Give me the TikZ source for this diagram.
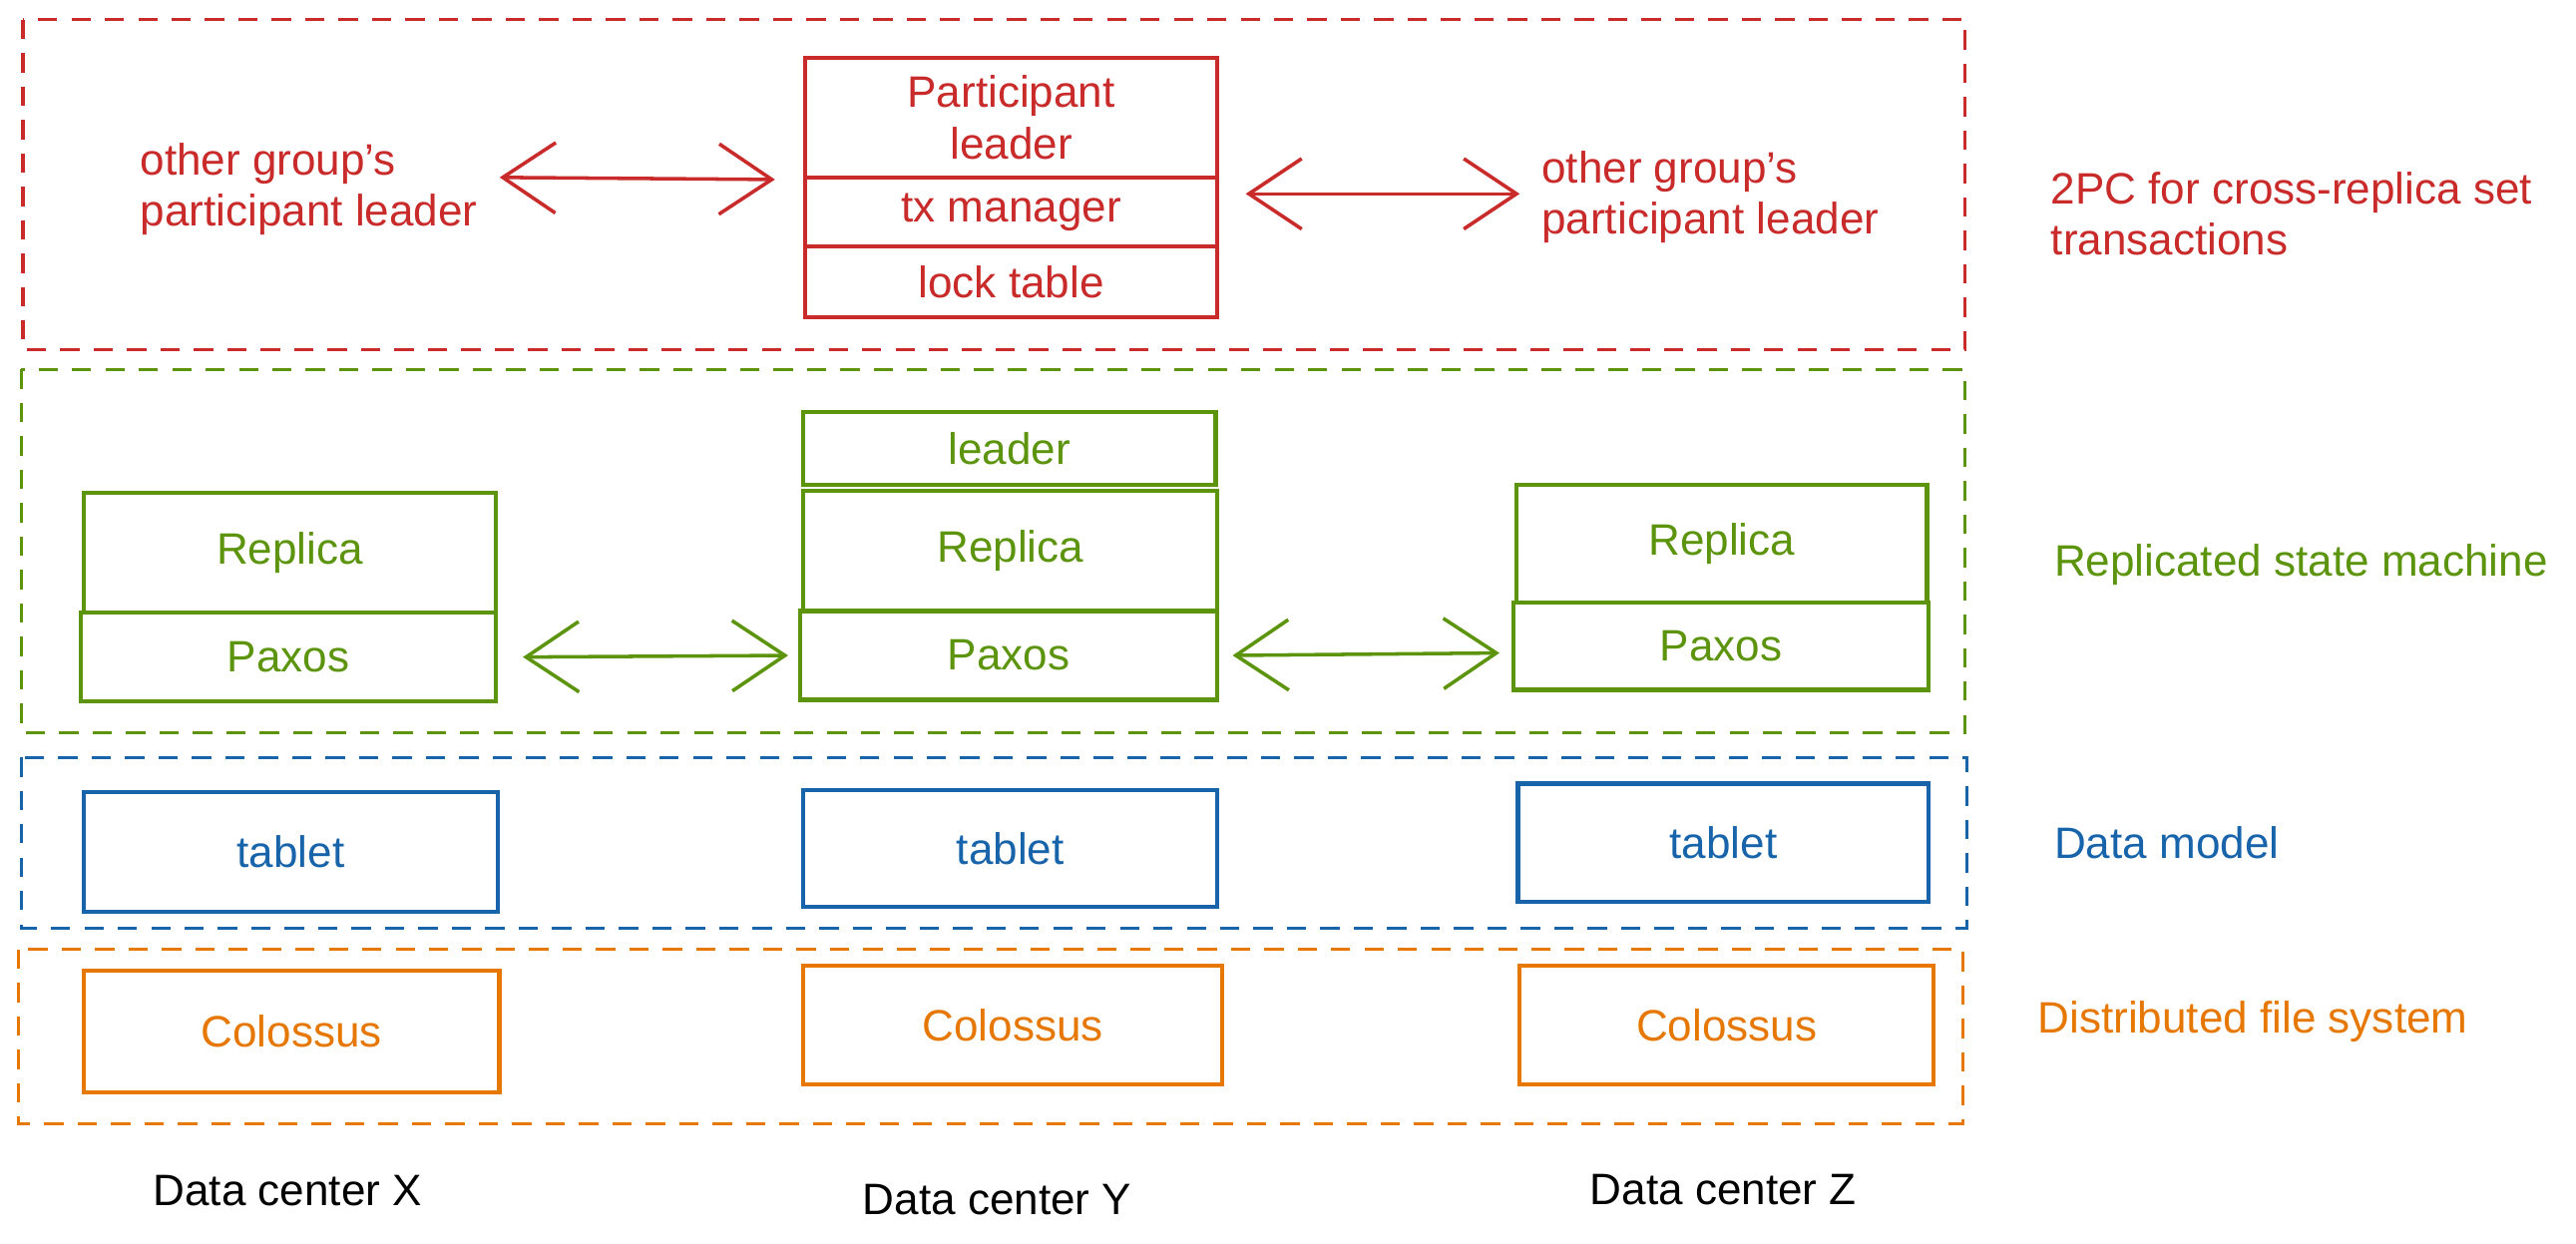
\documentclass[tikz,border=0pt]{standalone}
\usepackage{fontspec}
\setmainfont{Liberation Sans}
\usetikzlibrary{arrows.meta,fit}
\definecolor{cred}{HTML}{C92A2A}
\definecolor{cgreen}{HTML}{5C940D}
\definecolor{cblue}{HTML}{1864AB}
\definecolor{corange}{HTML}{E67700}
\newdimen\pu \pu=0.4672pt
\tikzset{
  frame/.style={line width=0.9pt, dash pattern=on 5.5pt off 4pt},
  box/.style={draw, line width=1.2pt, inner sep=0pt},
  boxtxt/.style={inner sep=0pt, align=center, font=\fontsize{12.5}{14.5}\selectfont},
  lbl/.style={inner sep=0pt, align=left, anchor=west, font=\fontsize{12.5}{14.5}\selectfont},
  dc/.style={inner sep=0pt, font=\fontsize{12.5}{14.5}\selectfont},
  arr/.style={line width=1pt, {Straight Barb[length=15pt,width=20pt,line width=1pt]}-{Straight Barb[length=15pt,width=20pt,line width=1pt]}}
}
\begin{document}
\begin{tikzpicture}[x=0.4672pt,y=-0.4672pt]
\useasboundingbox (0,0) rectangle (1568,757);
\fill[white] (0,0) rectangle (1568,757);
% frames
\draw[frame,cred] (14,12) rectangle (1196,213);
\draw[frame,cgreen] (13,225) rectangle (1196,446);
\draw[frame,cblue] (13,461) rectangle (1197,565);
\draw[frame,corange] (11,578) rectangle (1195,684);
% red layer
\node[box,cred,fit={(490,35) (741,108)}] (pl) {};
\node[boxtxt,cred] (plt) at (pl.center) {Participant\\leader};
\node[box,cred,fit={(490,108) (741,150)}] (tx) {};
\node[boxtxt,cred] (txt) at (tx.center) {tx manager};
\node[box,cred,fit={(490,150) (741,193)}] (lt) {};
\node[boxtxt,cred] (ltt) at (lt.center) {lock table};
\node[lbl,cred] (othL) at (85,115) {other group's\\participant leader};
\node[lbl,cred] (othR) at (938,120) {other group's\\participant leader};
\node[lbl,cred] (l2pc) at (1248,130) {2PC for cross-replica set\\transactions};
\draw[arr,cred] ([shift={(13,-7)}]othL.east) -- ([xshift=-17\pu]pl.south west);
\draw[arr,cred] ([shift={(16,-11)}]tx.east) -- ([shift={(-13,-2)}]othR.west);
% green layer
\node[box,cgreen,fit={(489,251) (740,295)}] (ld) {};
\node[boxtxt,cgreen] (ldt) at (ld.center) {leader};
\node[box,cgreen,fit={(51,300) (302,373)}] (repL) {};
\node[boxtxt,cgreen] (repLt) at (repL.center) {Replica};
\node[box,cgreen,fit={(49,373) (302,427)}] (paxL) {};
\node[boxtxt,cgreen] (paxLt) at (paxL.center) {Paxos};
\node[box,cgreen,fit={(489,299) (741,372)}] (repC) {};
\node[boxtxt,cgreen] (repCt) at (repC.center) {Replica};
\node[box,cgreen,fit={(487,372) (741,426)}] (paxC) {};
\node[boxtxt,cgreen] (paxCt) at (paxC.center) {Paxos};
\node[box,cgreen,fit={(923,295) (1173,367)}] (repR) {};
\node[boxtxt,cgreen] (repRt) at (repR.center) {Replica};
\node[box,cgreen,fit={(921,367) (1174,420)}] (paxR) {};
\node[boxtxt,cgreen] (paxRt) at (paxR.center) {Paxos};
\node[lbl,cgreen] (lrsm) at (1250,344) {Replicated state machine};
\draw[arr,cgreen] ([xshift=15\pu]paxL.east) -- ([xshift=-6\pu]paxC.west);
\draw[arr,cgreen] ([xshift=8\pu]paxC.east) -- ([shift={(-7,4)}]paxR.west);
% blue layer
\node[box,cblue,fit={(51,482) (303,555)}] (tabL) {};
\node[boxtxt,cblue] (tabLt) at (tabL.center) {tablet};
\node[box,cblue,fit={(489,481) (741,552)}] (tabC) {};
\node[boxtxt,cblue] (tabCt) at (tabC.center) {tablet};
\node[box,cblue,fit={(924,477) (1174,549)}] (tabR) {};
\node[boxtxt,cblue] (tabRt) at (tabR.center) {tablet};
\node[lbl,cblue] (ldm) at (1250,513) {Data model};
% orange layer
\node[box,corange,fit={(51,591) (304,665)}] (colL) {};
\node[boxtxt,corange] (colLt) at (colL.center) {Colossus};
\node[box,corange,fit={(489,588) (744,660)}] (colC) {};
\node[boxtxt,corange] (colCt) at (colC.center) {Colossus};
\node[box,corange,fit={(925,588) (1177,660)}] (colR) {};
\node[boxtxt,corange] (colRt) at (colR.center) {Colossus};
\node[lbl,corange] (ldfs) at (1240,622) {Distributed file system};
% data centers
\node[dc] (dcX) at (175,725) {Data center X};
\node[dc] (dcY) at (607,730) {Data center Y};
\node[dc] (dcZ) at (1049,724) {Data center Z};
\end{tikzpicture}
\end{document}
